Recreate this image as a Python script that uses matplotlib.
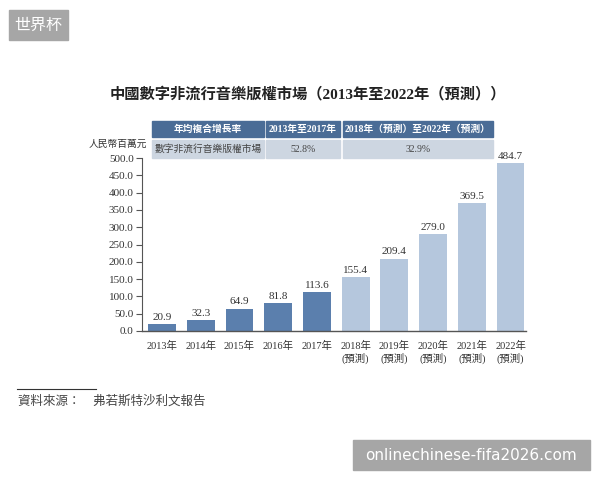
import matplotlib
matplotlib.use("Agg")
import matplotlib.pyplot as plt
from matplotlib.patches import Rectangle

plt.rcParams['font.family'] = ['Liberation Serif', 'Noto Sans CJK TC', 'DejaVu Sans']

# data
years = ['2013年', '2014年', '2015年', '2016年', '2017年',
         '2018年\n(預測)', '2019年\n(預測)', '2020年\n(預測)', '2021年\n(預測)', '2022年\n(預測)']
values = [20.9, 32.3, 64.9, 81.8, 113.6, 155.4, 209.4, 279.0, 369.5, 484.7]
n_actual = 5
yticks = [0, 50, 100, 150, 200, 250, 300, 350, 400, 450, 500]
cagr_header = ['年均複合增長率', '2013年至2017年', '2018年（預測）至2022年（預測）']
cagr_row = ['數字非流行音樂版權市場', '52.8%', '32.9%']

title = '中國數字非流行音樂版權市場（2013年至2022年（預測））'
unit = '人民幣百萬元'
source = '資料來源：    弗若斯特沙利文報告'

dark = '#5b7fad'
light = '#b5c7dd'
head_col = '#4a6c96'
row_col = '#cdd6e1'
txt = '#333333'

fig = plt.figure(figsize=(6, 4.8), dpi=100)

# main bar chart
ax = fig.add_axes([142 / 600, 1 - 331 / 480, 384 / 600, 173 / 480])
colors = [dark if i < n_actual else light for i in range(len(values))]
x = list(range(len(values)))
bars = ax.bar(x, values, width=0.72, color=colors)
for b, v in zip(bars, values):
    ax.text(b.get_x() + b.get_width() / 2, v + 6, f'{v:.1f}', ha='center', va='bottom',
            fontsize=8, color=txt)
ax.set_xlim(-0.52, 9.4)
ax.set_ylim(0, 500)
ax.set_yticks(yticks)
ax.set_yticklabels([f'{t:.1f}' for t in yticks], fontsize=8, color=txt)
ax.set_xticks(x)
ax.set_xticklabels(years, fontsize=7.5, color=txt, linespacing=1.25)
ax.tick_params(axis='x', length=0, pad=7)
ax.tick_params(axis='y', length=4, width=0.8, color='#555555', pad=2)
for s in ['top', 'right']:
    ax.spines[s].set_visible(False)
ax.spines['left'].set_color('#555555')
ax.spines['bottom'].set_color('#555555')
ax.spines['left'].set_linewidth(0.8)
ax.spines['bottom'].set_linewidth(1.0)

# overlay in pixel coordinates for title, table and marks
ov = fig.add_axes([0, 0, 1, 1], zorder=5)
ov.set_xlim(0, 600)
ov.set_ylim(480, 0)
ov.axis('off')
ov.patch.set_alpha(0)

ov.text(308, 94, title, ha='center', va='center', fontsize=11, color='#222222',
        fontweight='bold')
ov.text(147, 144, unit, ha='right', va='center', fontsize=7, color=txt)

cols = [(152, 264), (266, 340), (343, 493)]
for (x0, x1), h, r in zip(cols, cagr_header, cagr_row):
    ov.add_patch(Rectangle((x0, 121), x1 - x0, 16, color=head_col))
    ov.add_patch(Rectangle((x0, 140), x1 - x0, 18, color=row_col))
    ov.text((x0 + x1) / 2, 129, h, ha='center', va='center', fontsize=7,
            color='white', fontweight='bold')
    ov.text((x0 + x1) / 2, 149, r, ha='center', va='center', fontsize=7, color='#444444')

# source note
ov.plot([17, 96], [389, 389], color='#333333', lw=0.8)
ov.text(18, 402, source, ha='left', va='center', fontsize=9, color='#444444',
        style='italic')

# watermark boxes
ov.add_patch(Rectangle((9, 10), 59, 30, color='#a6a6a6'))
ov.text(38.5, 25, '世界杯', ha='center', va='center', fontsize=11.5, color='white',
        family=['Noto Sans CJK SC'])
ov.add_patch(Rectangle((353, 440), 237, 30, color='#a6a6a6'))
ov.text(471.5, 455, 'onlinechinese-fifa2026.com', ha='center', va='center',
        fontsize=11, color='white', family=['DejaVu Sans'])

fig.savefig('out.png', dpi=100)
